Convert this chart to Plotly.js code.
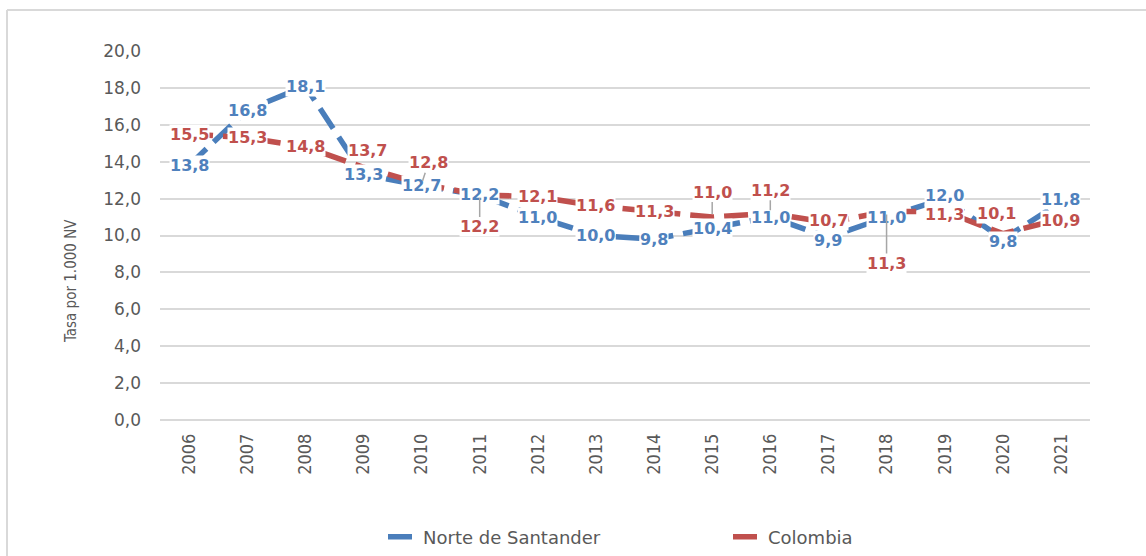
<!DOCTYPE html>
<html>
<head>
<meta charset="utf-8">
<script src="https://cdn.plot.ly/plotly-3.0.1.min.js"></script>
<style>html,body{margin:0;padding:0;background:#fff;}#chart{width:1146px;height:556px;}</style>
</head>
<body>
<div id="chart"></div>
<script>
// ---- data ----
const years = ["2006","2007","2008","2009","2010","2011","2012","2013","2014","2015","2016","2017","2018","2019","2020","2021"];
const norteSantander = [13.8,16.8,18.1,13.3,12.7,12.2,11.0,10.0,9.8,10.4,11.0,9.9,11.0,12.0,9.8,11.8];
const colombia = [15.5,15.3,14.8,13.7,12.8,12.2,12.1,11.6,11.3,11.0,11.2,10.7,11.3,11.3,10.1,10.9];
const seriesNames = ["Norte de Santander","Colombia"];
const yTitle = "Tasa por 1.000 NV";

// ---- styles ----
const blue = "#4a7ebb", blueText = "#4f81bd";
const red = "#c0504d", redText = "#c0504d";
const grey = "#595959";
// label placement tweaks in px: [dx, dy, leader line]
const blueOffsets = {11: [0, 3, false], 13: [0, -3, false], 14: [0, 2, false], 15: [0, -3, false]};
const redOffsets = {3: [4, -17, false], 4: [7, -21, true], 5: [0, 32, true], 9: [0, -25, true], 10: [0, -23, true], 11: [0, -2, false], 12: [0, 52, true], 13: [0, 3, false], 14: [-6, -20, false], 15: [0, 2, false]};

function fmt(v){ return v.toFixed(1).replace('.', ','); }

function makeLabels(vals, color, offs){
  const out = [];
  for (let i = 0; i < vals.length; i++){
    const v = vals[i];
    const o = offs[i] || [0,0,false];
    const a = {
      x: i, y: v, xref:'x', yref:'y',
      text: '<b>' + fmt(v) + '</b>',
      font: {family:'DejaVu Sans, Verdana, sans-serif', size:16, color: color},
      bgcolor: '#ffffff', borderpad: 0
    };
    if (o[2]) {
      a.showarrow = true; a.arrowhead = 0; a.arrowwidth = 1.5; a.arrowcolor = '#a6a6a6';
      a.ax = o[0]; a.ay = o[1]; a.standoff = 3;
    } else {
      a.showarrow = false; a.xshift = o[0]; a.yshift = -o[1];
    }
    out.push(a);
  }
  return out;
}

const traces = [
  {x: years, y: norteSantander, name: seriesNames[0], type:'scatter', mode:'lines',
   line:{color:blue, width:5.5, dash:'24px,10px'}},
  {x: years, y: colombia, name: seriesNames[1], type:'scatter', mode:'lines',
   line:{color:red, width:5.5, dash:'24px,10px'}}
];

const px2x = p => (p-160)/930;
const py2y = p => (420-p)/369;

const anns = makeLabels(norteSantander, blueText, blueOffsets).concat(makeLabels(colombia, redText, redOffsets));
anns.push({xref:'paper', yref:'paper', x:px2x(60), y:py2y(281), text:yTitle, showarrow:false, textangle:-90,
     font:{family:'DejaVu Sans Condensed, Liberation Sans Narrow, sans-serif', size:15, color:grey}});

const layout = {
  width:1146, height:556,
  margin:{l:160, r:56, t:51, b:136, autoexpand:false},
  paper_bgcolor:'#fff', plot_bgcolor:'#fff',
  separators: ',.',
  showlegend:true,
  legend:{orientation:'h', x:px2x(383), xanchor:'left', y:py2y(537), yanchor:'middle',
    font:{family:'DejaVu Sans, sans-serif', size:18, color:grey}, entrywidth:300, entrywidthmode:'pixels', traceorder:'normal'},
  xaxis:{type:'category', showgrid:false, zeroline:false, showline:false, ticks:'',
    tickangle:-90, tickfont:{family:'DejaVu Sans Condensed, Liberation Sans Narrow, sans-serif', size:18, color:grey},
    ticklabelstandoff:9, range:[-0.5,15.5], automargin:false},
  yaxis:{range:[0,20], dtick:2, tickformat:'.1f', showgrid:true, gridcolor:'#d9d9d9', gridwidth:2,
    zeroline:true, zerolinecolor:'#d9d9d9', zerolinewidth:2, showline:false, ticks:'',
    tickfont:{family:'DejaVu Sans, Verdana, sans-serif', size:17, color:grey}, ticklabelstandoff:18, automargin:false},
  annotations: anns,
  shapes:[
    {type:'line', xref:'paper', yref:'paper', x0:px2x(7), x1:px2x(1146), y0:py2y(10), y1:py2y(10), line:{color:'#d9d9d9', width:2}},
    {type:'line', xref:'paper', yref:'paper', x0:px2x(7), x1:px2x(7), y0:py2y(10), y1:py2y(556), line:{color:'#d9d9d9', width:2}}
  ]
};

Plotly.newPlot('chart', traces, layout, {displayModeBar:false, staticPlot:true});
</script>
</body>
</html>
